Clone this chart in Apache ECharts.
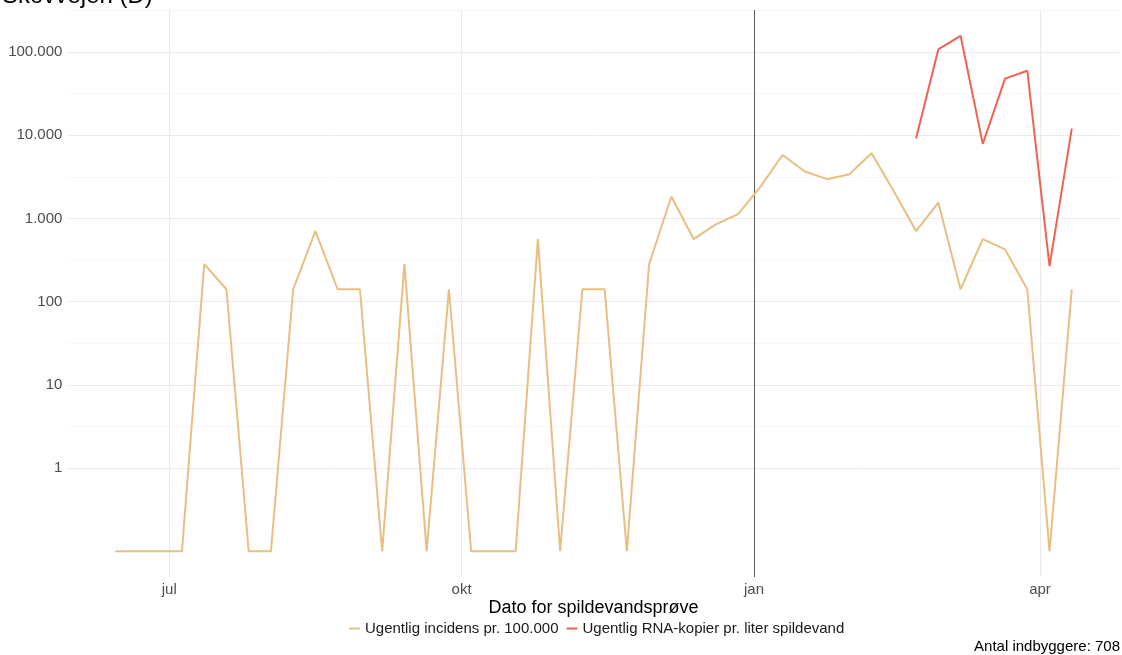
<!DOCTYPE html>
<html>
<head>
<meta charset="utf-8">
<script src="https://cdn.jsdelivr.net/npm/echarts@6/dist/echarts.min.js"></script>
<style>
html,body{margin:0;padding:0;background:#fff;}
#chart{width:1122px;height:655px;}
</style>
</head>
<body>
<div id="chart"></div>
<script>
// ---- data ----
const dates = [
  '2021-06-14','2021-06-21','2021-06-28','2021-07-05','2021-07-12','2021-07-19','2021-07-26',
  '2021-08-02','2021-08-09','2021-08-16','2021-08-23','2021-08-30','2021-09-06','2021-09-13',
  '2021-09-20','2021-09-27','2021-10-04','2021-10-11','2021-10-18','2021-10-25','2021-11-01',
  '2021-11-08','2021-11-15','2021-11-22','2021-11-29','2021-12-06','2021-12-13','2021-12-20',
  '2021-12-27','2022-01-03','2022-01-10','2022-01-17','2022-01-24','2022-01-31','2022-02-07',
  '2022-02-14','2022-02-21','2022-02-28','2022-03-07','2022-03-14','2022-03-21','2022-03-28',
  '2022-04-04','2022-04-11'
];
// weekly incidence per 100.000 (weeks without cases drawn at the 0,1 floor)
const incidence = [
  0.1, 0.1, 0.1, 0.1, 282, 141, 0.1,
  0.1, 141, 706, 141, 141, 0.1, 282,
  0.1, 141, 0.1, 0.1, 0.1, 565, 0.1,
  141, 141, 0.1, 282, 1836, 565, 847,
  1130, 2401, 5791, 3672, 2966, 3390, 6073,
  2119, 706, 1554, 141, 565, 424, 141,
  0.1, 141
];
const rnaDates = ['2022-02-21','2022-02-28','2022-03-07','2022-03-14','2022-03-21','2022-03-28','2022-04-04','2022-04-11'];
const rna = [9120, 107700, 157000, 7880, 47900, 59700, 267, 12030];

const yMajor = [1, 10, 100, 1000, 10000, 100000];
const yMinor = [3.162, 31.62, 316.2, 3162, 31620, 316200];
const xBreaks = ['2021-07-01', '2021-10-01', '2022-01-01', '2022-04-01'];
const xBreakLabels = ['jul', 'okt', 'jan', 'apr'];
const vlineDate = '2022-01-01';

const seriesNames = ['Ugentlig incidens pr. 100.000', 'Ugentlig RNA-kopier pr. liter spildevand'];
const colors = ['#E8BF80', '#EE6453'];

// ---- scales (ggplot-like 5% expansion) ----
const t0 = Date.parse(dates[0]), t1 = Date.parse(dates[dates.length - 1]);
const xPad = (t1 - t0) * 0.05;
const allVals = incidence.concat(rna);
const lo = Math.log10(Math.min.apply(null, allVals)), hi = Math.log10(Math.max.apply(null, allVals));
const yPad = (hi - lo) * 0.05;
const yMin = Math.pow(10, lo - yPad), yMax = Math.pow(10, hi + yPad);
const xBreakTimes = xBreaks.map(d => Date.parse(d));

function fmtDK(v) {
  return String(Math.round(v)).replace(/\B(?=(\d{3})+(?!\d))/g, '.');
}

const FONT = 'Liberation Sans, Arial, sans-serif';
const chart = echarts.init(document.getElementById('chart'), null, {renderer: 'canvas'});

const gridLines = [];
yMinor.forEach(v => { if (v < yMax) gridLines.push({yAxis: v, lineStyle: {color: '#F5F5F5', width: 0.8, type: 'solid'}}); });
yMajor.forEach(v => gridLines.push({yAxis: v, lineStyle: {color: '#EBEBEB', width: 1, type: 'solid'}}));
xBreaks.forEach(d => { if (d !== vlineDate) gridLines.push({xAxis: Date.parse(d), lineStyle: {color: '#EBEBEB', width: 1, type: 'solid'}}); });
gridLines.push({xAxis: Date.parse(vlineDate), lineStyle: {color: '#5C5C5C', width: 1, type: 'solid'}});

chart.setOption({
  animation: false,
  backgroundColor: '#ffffff',
  title: [
    {text: 'Skovvejen (D)', left: -3, top: -21, textStyle: {fontFamily: FONT, fontSize: 24, fontWeight: 'normal', color: '#000'}},
    {text: 'Antal indbyggere: 708', right: -3, top: 634, textStyle: {fontFamily: FONT, fontSize: 15, fontWeight: 'normal', color: '#000'}}
  ],
  grid: {left: 67.4, right: 2.4, top: 10, bottom: 78, containLabel: false},
  legend: {
    left: 344, top: 616,
    itemWidth: 11, itemHeight: 2, itemGap: 8,
    icon: 'rect',
    textStyle: {fontFamily: FONT, fontSize: 15, color: '#1a1a1a'},
    data: seriesNames
  },
  xAxis: {
    type: 'value',
    min: t0 - xPad, max: t1 + xPad,
    name: 'Dato for spildevandsprøve',
    nameLocation: 'middle', nameGap: 22,
    nameMoveOverlap: false,
    nameTextStyle: {fontFamily: FONT, fontSize: 18, color: '#000', verticalAlign: 'top'},
    axisLine: {show: false}, axisTick: {show: false}, splitLine: {show: false},
    axisLabel: {
      customValues: xBreakTimes,
      formatter: function (v) {
        const i = xBreakTimes.indexOf(v);
        return i >= 0 ? xBreakLabels[i] : '';
      },
      fontFamily: FONT, fontSize: 15, color: '#4D4D4D', margin: 5,
      hideOverlap: false
    }
  },
  yAxis: {
    type: 'log', logBase: 10,
    min: yMin, max: yMax,
    axisLine: {show: false}, axisTick: {show: false}, splitLine: {show: false},
    axisLabel: {
      showMinLabel: false, showMaxLabel: false,
      formatter: function (v) {
        for (let k = 0; k < yMajor.length; k++) {
          if (Math.abs(v - yMajor[k]) / yMajor[k] < 1e-6) return fmtDK(yMajor[k]);
        }
        return '';
      },
      fontFamily: FONT, fontSize: 15, color: '#4D4D4D', margin: 5
    }
  },
  series: [
    {
      name: seriesNames[0], type: 'line', showSymbol: false, symbol: 'none',
      data: dates.map((d, i) => [Date.parse(d), incidence[i]]),
      lineStyle: {color: colors[0], width: 2}, itemStyle: {color: colors[0]},
      z: 3,
      markLine: {silent: true, symbol: 'none', label: {show: false}, data: gridLines, z: 1, animation: false}
    },
    {
      name: seriesNames[1], type: 'line', showSymbol: false, symbol: 'none',
      data: rnaDates.map((d, i) => [Date.parse(d), rna[i]]),
      lineStyle: {color: colors[1], width: 2}, itemStyle: {color: colors[1]},
      z: 3
    }
  ]
});
</script>
</body>
</html>
